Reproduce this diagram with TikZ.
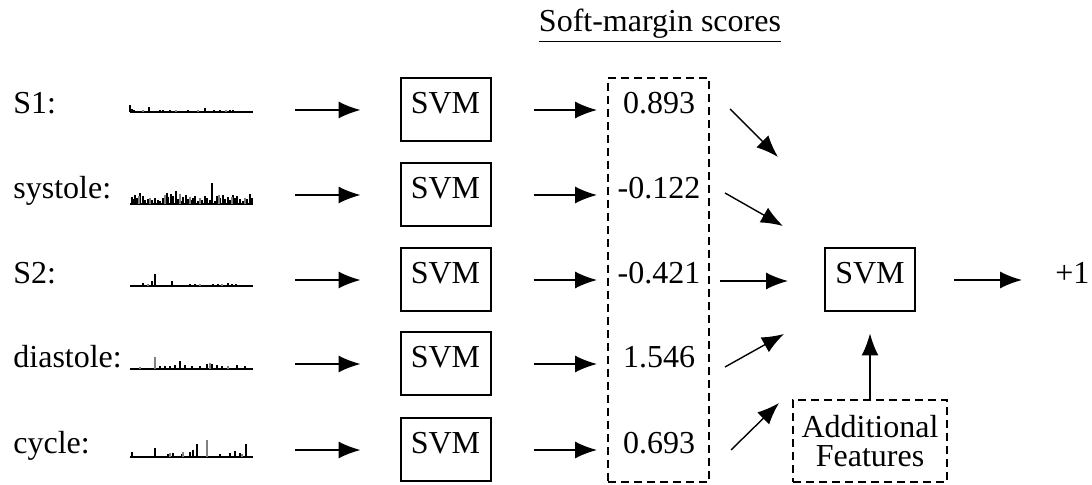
\documentclass[tikz,border=0pt]{standalone}
\usepackage{fontspec}
\setmainfont{Liberation Serif}
\usepackage{tikz}
\usetikzlibrary{shapes, arrows, arrows.meta}
\tikzstyle{svm} =
        [
                rectangle,
                draw,
                line width = 1pt,
                minimum width = 45pt,
                minimum height = 31.5pt,
                inner sep = 0pt,
                text height = 10.5pt,
                text depth = 6.5pt
        ]
\tikzstyle{scorebox} =
        [
                rectangle,
                draw,
                line width = 1pt,
                dash pattern = on 4pt off 2.5pt,
                inner sep = 0pt
        ]
\tikzstyle{line} =
        [
                draw,
                line width = 0.7pt,
                -{Latex[length = 11pt, width = 8.5pt]}
        ]
\tikzstyle{rowname} =
        [
                anchor = base west,
                inner sep = 0pt
        ]
\tikzstyle{score} =
        [
                anchor = base,
                inner sep = 0pt
        ]
\tikzstyle{spark} =
        [
                line width = 0.7pt
        ]

\begin{document}
\begin{tikzpicture}[x = 0.5pt, y = -0.5pt, font = \fontsize{16}{19}\selectfont]
	        \useasboundingbox (0,0) rectangle (1092,485);
	        \node [anchor = base] (title) at (660,32) {\underline{Soft-margin scores}};
	        \node [scorebox, minimum width = 50.5pt, minimum height = 202pt] (scores) at (658.5,280) {};
	        \foreach \k/\yy/\name/\val in {1/110/S1:/0.893, 2/195/systole:/-0.122, 3/280/S2:/-0.421, 4/364/diastole:/1.546, 5/450/cycle:/0.693}
	        {
	                \node [rowname] (name\k) at (13,\yy+4) {\name};
	                \coordinate (sp\k) at (253,\yy);
	                \node [svm] (svm\k) at (445.5,\yy) {SVM};
	                \node [score] (val\k) at (659,\yy+4) {\val};
	                \path [line, shorten <= 21pt, shorten >= 19.5pt] (sp\k) -- (svm\k);
	                \path [line, shorten <= 21pt, shorten >= 5pt] (svm\k) -- (svm\k -| scores.west);
	        }
	        % S1
	        \draw [line width = 1pt] (130,112) -- (253,112);
	        \foreach \x/\h in {130/7, 132/3, 134/2, 149/5, 160/2, 163/2, 170/2, 188/2, 205/4, 214/2, 220/2, 230/2, 233/2}
	                \draw [spark] (\x,112) -- ++(0,-\h);
	        \foreach \x/\h in {143/2, 176/2, 198/2, 226/2}
	                \draw [spark, gray] (\x,112) -- ++(0,-\h);
	        % systole
	        \draw [line width = 1pt] (130,204) -- (253,204);
	        \foreach \x/\h in {132/7, 133/5, 135/9, 137/6, 140/11, 143/8, 145/4, 148/5, 152/4, 155/6, 158/4, 160/3, 163/6, 167/11, 168/7, 171/10, 173/8, 176/13, 178/5, 181/3, 183/7, 186/9, 188/5, 191/4, 193/6, 195/8, 198/3, 202/4, 205/8, 207/6, 210/4, 212/21, 215/3, 217/8, 220/6, 223/9, 225/5, 228/7, 230/4, 233/9, 235/6, 237/8, 240/5, 243/3, 247/5, 250/10, 252/6}
	                \draw [spark, line width = 1pt] (\x,204) -- ++(0,-\h);
	        \foreach \x/\h in {139/8, 150/6, 165/9, 180/10, 190/7, 200/6, 219/9, 232/7, 245/6}
	                \draw [spark, gray, line width = 1pt] (\x,204) -- ++(0,-\h);
	        % S2
	        \draw [line width = 1pt] (130,286) -- (253,286);
	        \foreach \x/\h in {143/3, 152/5, 155/12, 172/5, 190/2, 195/2, 213/2, 218/2, 228/3, 232/2, 236/2}
	                \draw [spark] (\x,286) -- ++(0,-\h);
	        \foreach \x/\h in {148/2, 200/2, 222/2}
	                \draw [spark, gray] (\x,286) -- ++(0,-\h);
	        % diastole
	        \draw [line width = 1pt] (130,369) -- (253,369);
	        \foreach \x/\h in {160/3, 165/3, 170/3, 175/4, 180/8, 185/4, 192/3, 200/3, 207/5, 212/5, 217/4, 222/3, 237/4, 245/3}
	                \draw [spark] (\x,369) -- ++(0,-\h);
	        \foreach \x/\h in {140/2, 155/12, 210/6, 228/3}
	                \draw [spark, gray] (\x,369) -- ++(0,-\h);
	        % cycle
	        \draw [line width = 1pt] (130,457) -- (253,457);
	        \foreach \x/\h in {132/5, 155/9, 168/3, 173/4, 182/3, 190/5, 193/7, 197/13, 220/3, 230/4, 235/6, 240/4, 246/13}
	                \draw [spark] (\x,457) -- ++(0,-\h);
	        \foreach \x/\h in {170/4, 183/5, 207/17, 242/3}
	                \draw [spark, gray] (\x,457) -- ++(0,-\h);
	        % second stage
	        \node [svm] (svmF) at (870,280) {SVM};
	        \node [anchor = base west, inner sep = 0pt] (res) at (1055,284) {+1};
	        \node [scorebox, minimum width = 77pt, minimum height = 41pt, align = center, font = \fontsize{16}{14.5}\selectfont] (extra) at (870,441) {Additional\\Features};
	        \foreach \k/\xa/\ya/\xb/\yb in {1/730/109/778/157, 2/725/193/783/226, 3/720/281/788/281, 4/725/367/784/334, 5/731/450/779/403}
	        {
	                \coordinate (from\k) at (\xa,\ya);
	                \coordinate (to\k) at (\xb,\yb);
	                \path [line] (from\k) -- (to\k);
	        }
	        \path [line, shorten <= 19pt, shorten >= 16.5pt] (svmF) -- (svmF -| res.west);
	        \path [line, shorten >= 10.5pt] (extra) -- (svmF);
\end{tikzpicture}
\end{document}
